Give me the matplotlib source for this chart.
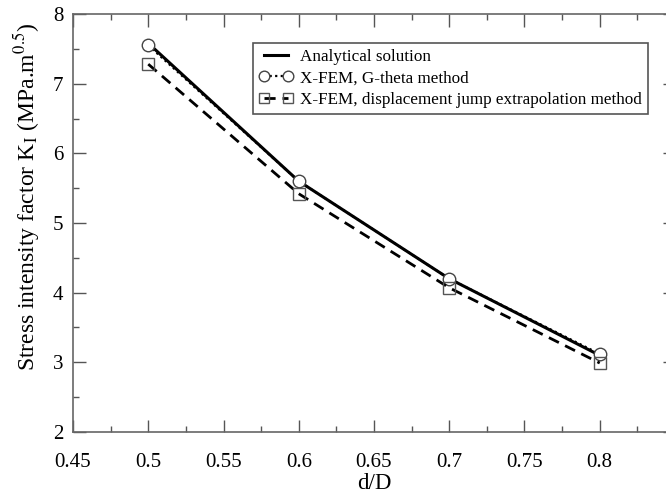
import numpy as np
import matplotlib.pyplot as plt
from matplotlib.ticker import MultipleLocator, FormatStrFormatter, FuncFormatter

plt.rcParams['font.family'] = 'Liberation Serif'
plt.rcParams['mathtext.fontset'] = 'stix'

d_over_D = [0.5, 0.6, 0.7, 0.8]
k_analytical = [7.58, 5.60, 4.20, 3.10]
k_gtheta = [7.55, 5.60, 4.20, 3.12]
k_disp_jump = [7.28, 5.42, 4.07, 2.99]


def xtick_label(v, pos):
    # 0.85 sits past the visible edge, leave it blank
    if v > 0.81:
        return ''
    return '%g' % round(v, 3)


fig = plt.figure(figsize=(6.66, 4.95), dpi=100)
# right edge of the frame runs past the canvas (x-range to 0.85)
ax = fig.add_axes([73 / 666, 1 - 432 / 495, (675 - 73) / 666, (432 - 14) / 495])

ax.plot(d_over_D, k_analytical, color='black', lw=2.2, label='Analytical solution')
ax.plot(d_over_D, k_gtheta, color='black', lw=1.6, ls=(0, (1, 1.5)),
        marker='o', ms=9, mfc='white', mec='#444444', mew=1.0,
        label='X-FEM, G-theta method')
ax.plot(d_over_D, k_disp_jump, color='black', lw=2.0, ls=(0, (4, 2.5)),
        marker='s', ms=8, mfc='none', mec='#555555', mew=1.0,
        label='X-FEM, displacement jump extrapolation method')

ax.set_xlim(0.45, 0.85)
ax.set_ylim(2, 8)
ax.xaxis.set_major_locator(MultipleLocator(0.05))
ax.xaxis.set_minor_locator(MultipleLocator(0.025))
ax.yaxis.set_major_locator(MultipleLocator(1))
ax.yaxis.set_minor_locator(MultipleLocator(0.5))
ax.xaxis.set_major_formatter(FuncFormatter(xtick_label))
ax.yaxis.set_major_formatter(FormatStrFormatter('%g'))
ax.tick_params(which='both', direction='in', top=True, right=True,
               labelsize=15, color='#555555')
ax.tick_params(axis='x', pad=15)
ax.tick_params(axis='y', pad=7)
ax.tick_params(which='major', length=9, width=1.0)
ax.tick_params(which='minor', length=4.5, width=1.0)
for s in ax.spines.values():
    s.set_color('#666666')
    s.set_linewidth(1.2)

ax.set_xlabel('d/D', fontsize=16.5, labelpad=1)
ax.set_ylabel(r'Stress intensity factor K$_\mathrm{I}$ (MPa.m$^{0.5}$)',
              fontsize=17)
ax.yaxis.set_label_coords(-0.052, 0.562)

leg = ax.legend(loc='upper left', bbox_to_anchor=(0.299, 0.931), fontsize=12.3,
                numpoints=2, markerscale=0.85, handlelength=2.0, handletextpad=0.4,
                borderpad=0.35, labelspacing=0.32, fancybox=False, framealpha=1,
                borderaxespad=0)
leg.get_frame().set_edgecolor('#555555')
leg.get_frame().set_linewidth(1.2)

fig.savefig('out.png', dpi=100)
